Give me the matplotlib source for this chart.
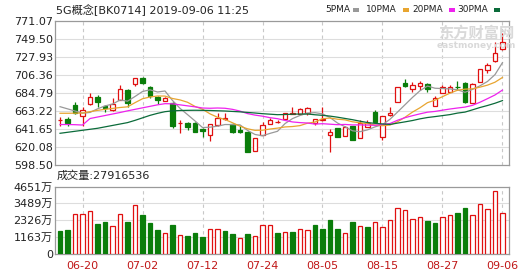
import matplotlib
matplotlib.use('Agg')
import matplotlib.pyplot as plt
from matplotlib.patches import Rectangle
import numpy as np

plt.rcParams['font.family'] = ['DejaVu Sans', 'Noto Sans CJK SC']

# ---------------- data ----------------
dates = ['06-17', '06-18', '06-19', '06-20', '06-21', '06-24', '06-25', '06-26', '06-27', '06-28',
         '07-01', '07-02', '07-03', '07-04', '07-05', '07-08', '07-09', '07-10', '07-11', '07-12',
         '07-15', '07-16', '07-17', '07-18', '07-19', '07-22', '07-23', '07-24', '07-25', '07-26',
         '07-29', '07-30', '07-31', '08-01', '08-02', '08-05', '08-06', '08-07', '08-08', '08-09',
         '08-12', '08-13', '08-14', '08-15', '08-16', '08-19', '08-20', '08-21', '08-22', '08-23',
         '08-26', '08-27', '08-28', '08-29', '08-30', '09-02', '09-03', '09-04', '09-05', '09-06']
shown_dates = ['06-20', '07-02', '07-12', '07-24', '08-05', '08-15', '08-27', '09-06']

opens = [652.0, 654.0, 670.4, 657.2, 671.6, 680.4, 669.0, 664.4, 676.4, 688.4,
         695.6, 703.1, 691.6, 680.4, 675.6, 673.2, 648.8, 649.2, 649.2, 641.3,
         634.5, 646.4, 654.0, 647.3, 640.4, 638.4, 615.6, 634.5, 647.3, 650.0,
         653.3, 659.7, 659.7, 660.5, 648.5, 653.0, 634.5, 642.5, 633.3, 645.2,
         630.5, 644.4, 662.4, 631.7, 658.4, 674.4, 696.4, 689.2, 693.2, 695.6,
         669.8, 684.4, 686.4, 692.0, 696.4, 673.2, 698.3, 712.4, 723.5, 737.2]
highs = [656.4, 656.4, 674.4, 668.4, 684.4, 681.8, 670.4, 678.4, 694.4, 689.6,
         702.8, 704.3, 692.6, 681.2, 680.0, 674.4, 652.4, 650.4, 650.0, 643.2,
         648.2, 660.5, 660.5, 648.5, 645.6, 639.2, 630.9, 650.4, 655.2, 652.0,
         661.2, 667.6, 666.5, 668.4, 654.2, 667.6, 641.3, 642.8, 645.2, 645.8,
         652.4, 652.4, 664.4, 657.8, 668.4, 692.0, 701.2, 698.3, 699.5, 696.2,
         681.2, 694.4, 694.4, 699.2, 698.3, 696.2, 713.6, 720.4, 746.3, 757.0]
lows = [645.2, 645.2, 659.6, 645.2, 671.0, 668.4, 662.4, 663.2, 676.4, 668.4,
        693.2, 696.1, 678.4, 671.6, 675.2, 643.2, 637.2, 640.4, 637.7, 632.4,
        627.6, 645.8, 652.4, 636.9, 637.2, 614.1, 615.3, 634.0, 647.1, 648.8,
        652.4, 659.7, 659.3, 658.4, 646.4, 651.2, 614.4, 632.1, 632.7, 627.9,
        630.3, 644.0, 650.0, 628.5, 657.8, 674.0, 691.6, 686.4, 688.4, 685.6,
        669.2, 684.2, 686.0, 688.4, 672.4, 672.8, 698.0, 708.4, 721.9, 736.3]
closes = [652.8, 649.2, 660.5, 664.4, 680.4, 674.4, 666.6, 671.6, 689.2, 673.2,
          702.4, 696.4, 681.6, 676.4, 679.2, 645.2, 649.4, 644.4, 638.4, 639.6,
          647.3, 655.2, 654.5, 637.7, 638.4, 614.4, 630.5, 646.4, 652.4, 650.6,
          660.5, 660.5, 665.3, 666.5, 653.3, 653.6, 638.4, 632.4, 644.4, 628.5,
          648.5, 649.2, 650.4, 657.2, 661.2, 691.6, 693.2, 694.4, 697.1, 689.2,
          678.4, 691.6, 692.4, 691.4, 674.4, 695.6, 713.2, 718.3, 732.4, 746.3]

ma5 = [668.4, 665.8, 663.2, 660.6, 661.5, 665.8, 669.3, 671.5, 676.4, 675.0,
       680.6, 686.6, 688.6, 686.0, 687.2, 675.8, 666.4, 658.9, 651.3, 643.4,
       643.8, 645.0, 647.0, 646.9, 646.6, 640.0, 635.1, 633.5, 636.4, 638.9,
       648.1, 654.1, 657.9, 660.7, 661.2, 659.8, 655.4, 648.8, 644.4, 639.5,
       638.4, 640.6, 644.2, 646.8, 653.3, 661.9, 670.7, 679.5, 687.5, 693.1,
       690.5, 690.1, 689.7, 688.6, 685.6, 689.1, 693.4, 698.6, 706.8, 721.2]
ma10 = [660.5, 660.5, 660.6, 660.8, 662.4, 664.0, 665.2, 666.3, 667.4, 668.2,
        673.2, 677.9, 680.0, 681.2, 681.1, 678.2, 676.5, 673.7, 668.7, 665.3,
        659.8, 655.7, 653.0, 649.1, 645.0, 641.9, 640.0, 640.2, 641.6, 642.7,
        644.1, 644.6, 645.7, 648.6, 650.0, 654.0, 654.8, 653.4, 652.6, 650.3,
        649.1, 648.0, 646.5, 645.6, 646.4, 650.2, 655.7, 661.9, 667.1, 673.2,
        676.2, 680.4, 684.6, 688.1, 689.4, 689.8, 691.8, 694.2, 697.7, 703.4]
ma20 = [647.0, 647.0, 646.8, 646.4, 654.2, 656.0, 657.8, 659.6, 661.4, 663.4,
        665.2, 667.0, 668.8, 670.6, 672.0, 671.8, 670.6, 669.4, 668.2, 666.8,
        666.5, 666.8, 666.5, 665.2, 663.1, 660.1, 658.3, 657.0, 655.2, 654.0,
        651.9, 650.1, 649.3, 648.8, 647.5, 648.0, 647.4, 646.8, 647.1, 646.5,
        646.6, 646.3, 646.1, 647.1, 648.2, 652.1, 655.2, 657.6, 659.8, 661.8,
        662.7, 664.2, 665.6, 666.8, 667.9, 670.0, 673.7, 678.0, 682.4, 688.3]
ma30 = [636.5, 637.7, 638.9, 640.1, 641.3, 642.5, 644.2, 645.9, 647.6, 649.3,
        652.0, 655.0, 658.0, 660.4, 662.4, 663.4, 663.8, 664.0, 664.1, 664.0,
        663.8, 663.5, 663.2, 662.7, 662.2, 661.5, 660.8, 660.0, 659.4, 658.8,
        659.0, 659.4, 659.6, 659.6, 658.7, 658.0, 657.1, 655.8, 654.3, 652.8,
        651.0, 649.4, 648.4, 647.7, 647.1, 648.7, 650.2, 651.8, 653.8, 655.4,
        656.5, 657.7, 658.9, 660.7, 661.9, 664.6, 667.4, 669.8, 672.5, 675.7]

# volume in 万 (10k shares)
volume = [1610, 1658, 2764, 2764, 2971, 2073, 2232, 1935, 2764, 2232,
          3386, 2695, 2163, 1658, 1428, 2004, 1313, 1244, 1451, 1197,
          1728, 1728, 1610, 1382, 1106, 1382, 1244, 2004, 2004, 1473,
          1543, 1543, 1728, 1658, 2004, 1750, 2349, 1750, 1450, 2232,
          1935, 1843, 2232, 1850, 2349, 3156, 3040, 2395, 2534, 2280,
          2119, 2534, 2695, 2856, 3179, 2695, 3455, 3110, 4353, 2792]
vol_dir = list("GGRRRGGRRG" "RGGGRGRGGG" "RRGGRGRRRG" "RGRRGGGGRG" "RGRRRRRRRG" "GRRGGRRRRR")

price_ticks = [598.50, 620.08, 641.65, 663.22, 684.79, 706.36, 727.93, 749.50, 771.07]
vol_ticks = [0, 1163, 2326, 3489, 4651]
vol_total = '27916536'
ma_names = ['5PMA', '10PMA', '20PMA', '30PMA']

# ---------------- style ----------------
RED = '#e01010'
GREEN = '#0a7d0a'
MA_COLORS = ['#999999', '#e8a530', '#ee22ee', '#0b6b3a']
FRAME = '#9a9a9a'
GRID = '#dddddd'
TXT = '#222222'

W, H = 530, 276
fig = plt.figure(figsize=(W / 100, H / 100), dpi=100)
fig.patch.set_facecolor('white')


def fx(px):
    return px / W


def fy(py):
    return 1 - py / H


ax = fig.add_axes([fx(55), fy(165), fx(509) - fx(55), fy(21) - fy(165)])
axv = fig.add_axes([fx(55), fy(254), fx(509) - fx(55), fy(186.5) - fy(254)])

x = np.arange(len(dates))
o = np.array(opens)
c = np.array(closes)
hi = np.array(highs)
lo = np.array(lows)
up = c >= o
cols = np.where(up, RED, GREEN)

tick_idx = [dates.index(d) for d in shown_dates]

for a in (ax, axv):
    a.set_xlim(-0.67, len(dates) - 0.13)
    a.set_xticks(tick_idx)
    a.grid(False)
    for sp in a.spines.values():
        sp.set_color(FRAME)
        sp.set_linewidth(0.9)
    a.tick_params(length=0)
    for xi in tick_idx:
        a.axvline(xi, color='#c8c8c8', lw=0.8, ls=(0, (3, 3)), zorder=0)

# price panel
ax.set_ylim(price_ticks[0], price_ticks[-1])
ax.set_yticks(price_ticks)
ax.set_yticklabels([f'{t:.2f}' for t in price_ticks], fontsize=8, color=TXT)
ax.tick_params(axis='y', pad=1.5)
ax.set_xticklabels([])
for t in price_ticks[1:-1]:
    ax.axhline(t, color=GRID, lw=0.8, zorder=0)

ax.vlines(x, lo, hi, colors=cols, lw=0.9, zorder=2)
body_bottom = np.minimum(o, c)
body_h = np.maximum(np.abs(c - o), 0.3)
ax.bar(x, body_h, bottom=body_bottom, width=0.62,
       facecolor=np.where(up, 'white', GREEN), edgecolor=cols, linewidth=0.9, zorder=3)

for vals, col in zip([ma5, ma10, ma20, ma30], MA_COLORS):
    ax.plot(x, vals, color=col, lw=0.9, zorder=4)

# watermark
fig.text(fx(476), fy(33), '东方财富网', fontsize=11, color='#d9d9d9', ha='center', va='center',
         fontweight='bold', family=['Noto Sans CJK SC', 'DejaVu Sans'], zorder=1)
fig.text(fx(476), fy(45), 'eastmoney.com', fontsize=6.5, color='#d9d9d9', ha='center', va='center',
         fontweight='bold', zorder=1)

# volume panel
vcol = [RED if d == 'R' else GREEN for d in vol_dir]
vface = ['white' if d == 'R' else GREEN for d in vol_dir]
axv.set_ylim(0, vol_ticks[-1])
axv.set_yticks(vol_ticks)
axv.set_yticklabels(['0' if t == 0 else f'{t}万' for t in vol_ticks], fontsize=8, color=TXT)
axv.tick_params(axis='y', pad=1.5)
for t in vol_ticks[1:-1]:
    axv.axhline(t, color=GRID, lw=0.8, zorder=0)
axv.bar(x, volume, width=0.62, facecolor=vface, edgecolor=vcol, linewidth=0.9, zorder=3)
axv.set_xticklabels(shown_dates, fontsize=8, color='#c01818')
axv.tick_params(axis='x', pad=5)

# texts
fig.text(fx(56), fy(10), '5G概念[BK0714] 2019-09-06 11:25', fontsize=8, color=TXT, va='center')
fig.text(fx(57), fy(176), '成交量:' + vol_total, fontsize=8, color=TXT, va='center')

leg_x = [325, 366, 412, 457]
mark_x = [353, 403, 449, 494]
for name, col, tx, mx in zip(ma_names, MA_COLORS, leg_x, mark_x):
    fig.text(fx(tx), fy(10), name, fontsize=6.5, color=TXT, va='center')
    fig.patches.append(Rectangle((fx(mx), fy(11.5)), 6 / W, 3 / H, transform=fig.transFigure,
                                 facecolor=col, edgecolor='none'))

fig.savefig('out.png', dpi=100, facecolor='white')
